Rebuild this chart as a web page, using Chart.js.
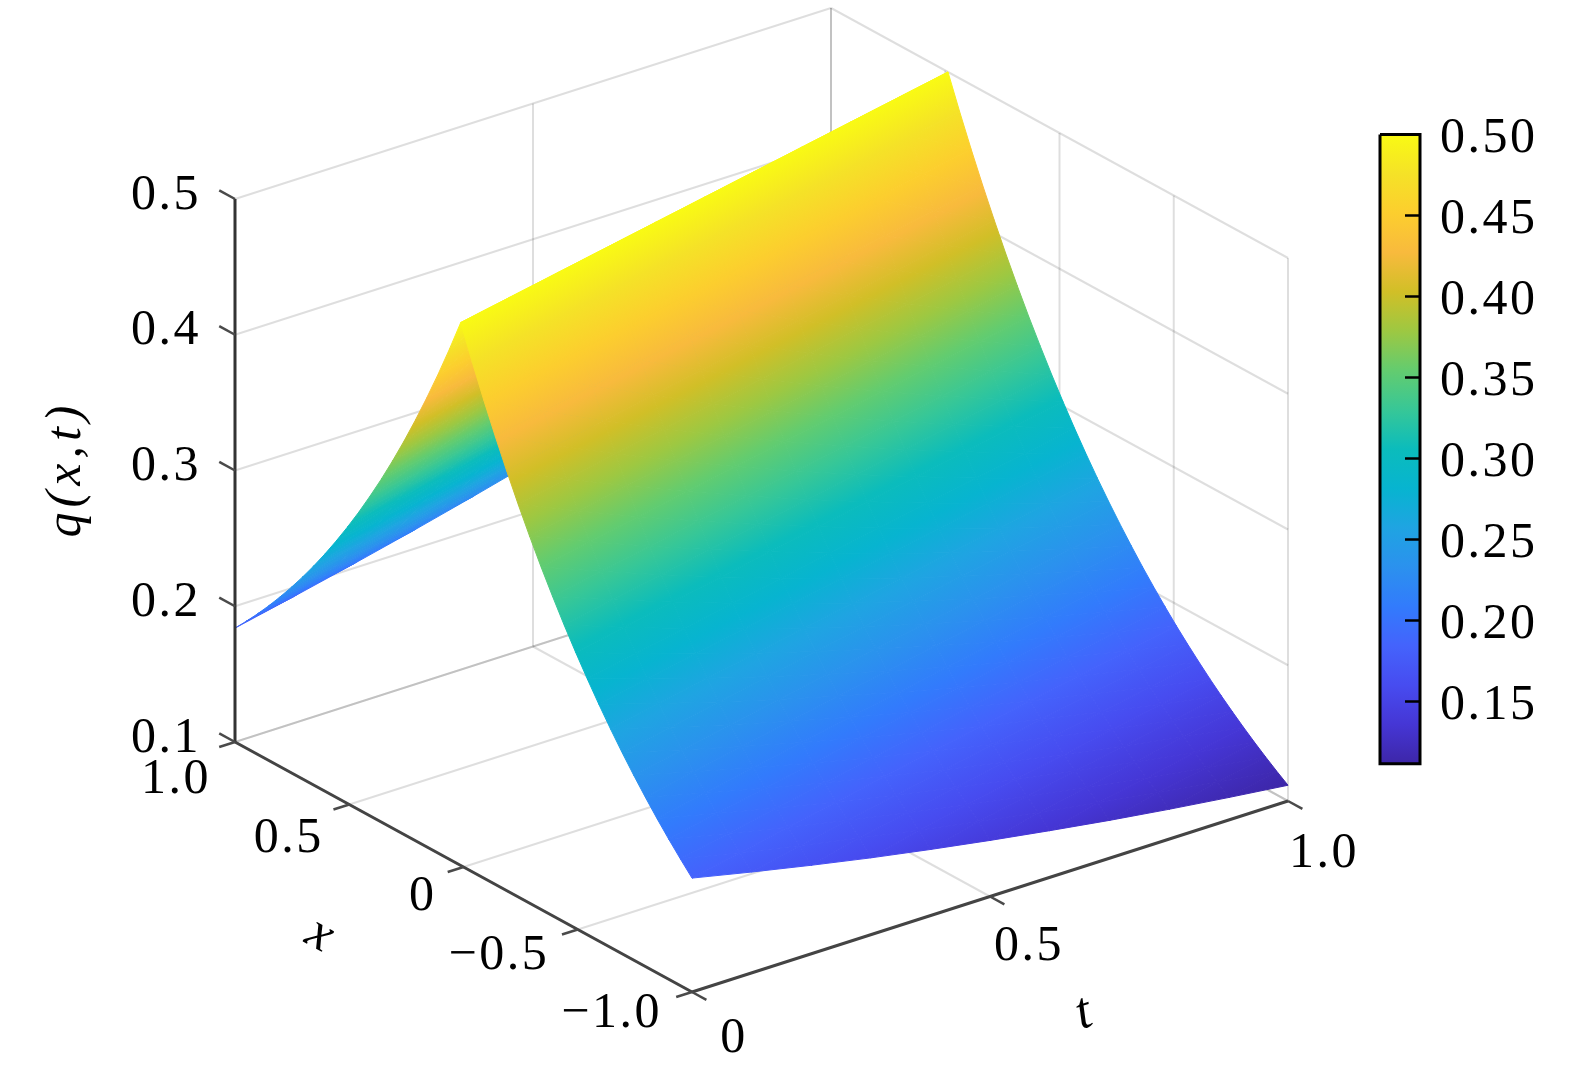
<!DOCTYPE html>
<html><head><meta charset="utf-8">
<style>html,body{margin:0;padding:0;background:#fff}canvas{display:block}</style>
<script src="https://cdn.jsdelivr.net/npm/chart.js@4"></script>
</head><body><canvas id="c" width="1575" height="1073"></canvas>
<script>
const xValues=[-1,-.95,-.9,-.85,-.8,-.75,-.7,-.65,-.6,-.55,-.5,-.45,-.4,-.35,-.3,-.25,-.2,-.15,-.1,-.05,0,.05,.1,.15,.2,.25,.3,.35,.4,.45,.5,.55,.6,.65,.7,.75,.8,.85,.9,.95,1];
const tValues=[0,.1,.2,.3,.4,.5,.6,.7,.8,.9,1];
// ridge offset, one per t row
const ridgeOffset=[.012,.0096,.0072,.0048,.0024,0,-.0024,-.0048,-.0072,-.0096,-.012];
const qT00=[.1839,.1934,.2033,.2137,.2247,.2362,.2483,.2610,.2744,.2885,.3033,.3188,.3352,.3523,.3704,.3894,.4094,.4304,.4524,.4756,.5,.4756,.4524,.4304,.4094,.3894,.3704,.3523,.3352,.3188,.3033,.2885,.2744,.2610,.2483,.2362,.2247,.2137,.2033,.1934,.1839];
const qT01=[.1743,.1839,.1934,.2033,.2137,.2247,.2362,.2483,.2610,.2744,.2885,.3033,.3188,.3352,.3523,.3704,.3894,.4094,.4304,.4524,.4756,.5,.4756,.4524,.4304,.4094,.3894,.3704,.3523,.3352,.3188,.3033,.2885,.2744,.2610,.2483,.2362,.2247,.2137,.2033,.1934];
const qT02=[.1652,.1750,.1839,.1934,.2033,.2137,.2247,.2362,.2483,.2610,.2744,.2885,.3033,.3188,.3352,.3523,.3704,.3894,.4094,.4304,.4524,.4756,.5,.4756,.4524,.4304,.4094,.3894,.3704,.3523,.3352,.3188,.3033,.2885,.2744,.2610,.2483,.2362,.2247,.2137,.2033];
const qT03=[.1566,.1665,.1750,.1839,.1934,.2033,.2137,.2247,.2362,.2483,.2610,.2744,.2885,.3033,.3188,.3352,.3523,.3704,.3894,.4094,.4304,.4524,.4756,.5,.4756,.4524,.4304,.4094,.3894,.3704,.3523,.3352,.3188,.3033,.2885,.2744,.2610,.2483,.2362,.2247,.2137];
const qT04=[.1487,.1583,.1665,.1750,.1839,.1934,.2033,.2137,.2247,.2362,.2483,.2610,.2744,.2885,.3033,.3188,.3352,.3523,.3704,.3894,.4094,.4304,.4524,.4756,.5,.4756,.4524,.4304,.4094,.3894,.3704,.3523,.3352,.3188,.3033,.2885,.2744,.2610,.2483,.2362,.2247];
const qT05=[.1413,.1506,.1583,.1665,.1750,.1839,.1934,.2033,.2137,.2247,.2362,.2483,.2610,.2744,.2885,.3033,.3188,.3352,.3523,.3704,.3894,.4094,.4304,.4524,.4756,.5,.4756,.4524,.4304,.4094,.3894,.3704,.3523,.3352,.3188,.3033,.2885,.2744,.2610,.2483,.2362];
const qT06=[.1344,.1433,.1506,.1583,.1665,.1750,.1839,.1934,.2033,.2137,.2247,.2362,.2483,.2610,.2744,.2885,.3033,.3188,.3352,.3523,.3704,.3894,.4094,.4304,.4524,.4756,.5,.4756,.4524,.4304,.4094,.3894,.3704,.3523,.3352,.3188,.3033,.2885,.2744,.2610,.2483];
const qT07=[.1279,.1363,.1433,.1506,.1583,.1665,.1750,.1839,.1934,.2033,.2137,.2247,.2362,.2483,.2610,.2744,.2885,.3033,.3188,.3352,.3523,.3704,.3894,.4094,.4304,.4524,.4756,.5,.4756,.4524,.4304,.4094,.3894,.3704,.3523,.3352,.3188,.3033,.2885,.2744,.2610];
const qT08=[.1220,.1296,.1363,.1433,.1506,.1583,.1665,.1750,.1839,.1934,.2033,.2137,.2247,.2362,.2483,.2610,.2744,.2885,.3033,.3188,.3352,.3523,.3704,.3894,.4094,.4304,.4524,.4756,.5,.4756,.4524,.4304,.4094,.3894,.3704,.3523,.3352,.3188,.3033,.2885,.2744];
const qT09=[.1166,.1233,.1296,.1363,.1433,.1506,.1583,.1665,.1750,.1839,.1934,.2033,.2137,.2247,.2362,.2483,.2610,.2744,.2885,.3033,.3188,.3352,.3523,.3704,.3894,.4094,.4304,.4524,.4756,.5,.4756,.4524,.4304,.4094,.3894,.3704,.3523,.3352,.3188,.3033,.2885];
const qT10=[.1116,.1173,.1233,.1296,.1363,.1433,.1506,.1583,.1665,.1750,.1839,.1934,.2033,.2137,.2247,.2362,.2483,.2610,.2744,.2885,.3033,.3188,.3352,.3523,.3704,.3894,.4094,.4304,.4524,.4756,.5,.4756,.4524,.4304,.4094,.3894,.3704,.3523,.3352,.3188,.3033];
const qRows=[qT00,qT01,qT02,qT03,qT04,qT05,qT06,qT07,qT08,qT09,qT10];

const xTicks=[1,.5,0,-.5,-1], xTickLabels=['1.0','0.5','0','\u22120.5','\u22121.0'];
const tTicks=[0,.5,1], tTickLabels=['0','0.5','1.0'];
const zTicks=[.1,.2,.3,.4,.5], zTickLabels=['0.1','0.2','0.3','0.4','0.5'];
const cbTicks=[.5,.45,.4,.35,.3,.25,.2,.15], cbTickLabels=['0.50','0.45','0.40','0.35','0.30','0.25','0.20','0.15'];
const qMin=.1116, qMax=.5;
const cmapStops=[[.2422,.1504,.6603],[.2706,.2147,.8364],[.2813,.3006,.9414],[.2699,.3892,.9906],[.1963,.4847,.9892],[.1687,.5703,.9359],[.1248,.6459,.8883],[.0297,.7082,.8163],[.0433,.7411,.7394],[.2161,.7843,.5923],[.3909,.8029,.4354],[.6174,.7876,.2612],[.8203,.7498,.1535],[.9728,.7298,.2394],[.9892,.8082,.1816],[.9610,.8890,.1540],[.9769,.9839,.0805]];

// orthographic view of the box
const O={x:235,y:742}, EX={x:457,y:250}, ET={x:596,y:-191}, ZS=1357.5;
const proj=(x,t,z)=>({x:O.x+EX.x*(1-x)/2+ET.x*t, y:O.y+EX.y*(1-x)/2+ET.y*t-ZS*(z-.1)});
const cbY=v=>134.5+(.5-v)/.05*81, CB={l:1380,r:1420,bottom:cbY(qMin)};

function addStops(g){
  cmapStops.forEach((c,i)=>g.addColorStop(i/(cmapStops.length-1),`rgb(${c[0]*255|0},${c[1]*255|0},${c[2]*255|0})`));
  return g;
}
function triGradient(pts,vals){
  let cache=null;
  return c=>{
    if(cache) return cache;
    const sx=c.chart.scales.x, sy=c.chart.scales.y;
    const p=pts.map(q=>({x:sx.getPixelForValue(q.x),y:sy.getPixelForValue(q.y)}));
    if(!Number.isFinite(p[0].x+p[0].y)) return 'rgba(0,0,0,0)'; // scales not laid out yet
    const d1={x:p[1].x-p[0].x,y:p[1].y-p[0].y}, d2={x:p[2].x-p[0].x,y:p[2].y-p[0].y};
    const dv1=vals[1]-vals[0], dv2=vals[2]-vals[0], det=d1.x*d2.y-d1.y*d2.x;
    const gx=(dv1*d2.y-dv2*d1.y)/det, gy=(dv2*d1.x-dv1*d2.x)/det, n=gx*gx+gy*gy;
    const ax=p[0].x+gx*(qMin-vals[0])/n, ay=p[0].y+gy*(qMin-vals[0])/n;
    const bx=p[0].x+gx*(qMax-vals[0])/n, by=p[0].y+gy*(qMax-vals[0])/n;
    cache=addStops(c.chart.ctx.createLinearGradient(ax,ay,bx,by));
    return cache;
  };
}

const layers=[];
const line=(data,color,width)=>layers.push({data,borderColor:color,borderWidth:width,pointRadius:0,fill:false,tension:0,borderCapStyle:'butt'});
const GRID='rgba(0,0,0,.13)';
// back walls and floor grid
zTicks.forEach(z=>{line([proj(1,0,z),proj(1,1,z)],GRID,2);line([proj(1,1,z),proj(-1,1,z)],GRID,2);});
tTicks.forEach(t=>line([proj(1,t,.1),proj(1,t,.5)],GRID,2));
xTicks.forEach(x=>line([proj(x,1,.1),proj(x,1,.5)],GRID,2));
xTicks.forEach(x=>line([proj(x,0,.1),proj(x,1,.1)],GRID,2));
tTicks.forEach(t=>line([proj(1,t,.1),proj(-1,t,.1)],GRID,2));

// surface: two triangles per grid cell, far slope first
const back=[],front=[];
const node=(a,b)=>{
  const x=xValues[a],t=tValues[b],r=t*.5;
  return {x:x+ridgeOffset[b]*(1-x*x)/(1-r*r),t,q:qRows[b][a]};
};
for(let i=xValues.length-2;i>=0;i--)for(let j=tValues.length-2;j>=0;j--){
  const A=node(i,j),B=node(i+1,j),C=node(i,j+1),D=node(i+1,j+1);
  (B.q<A.q?back:front).push([A,B,D]);
  (D.q<C.q?back:front).push([A,C,D]);
}
[...back,...front].forEach(tri=>{
  const pts=tri.map(v=>proj(v.x,v.t,v.q));
  const grad=triGradient(pts,tri.map(v=>v.q));
  layers.push({data:[...pts,pts[0]],backgroundColor:grad,borderColor:grad,borderWidth:1,pointRadius:0,fill:'shape',tension:0,borderJoinStyle:'round'});
});

// axes and ticks
const AX='#444', TK='#4a4a4a';
line([proj(1,0,.1),proj(1,0,.5)],'#333',3);
line([proj(1,0,.1),proj(-1,0,.1)],AX,3);
line([proj(-1,0,.1),proj(-1,1,.1)],AX,3);
zTicks.forEach(z=>line([proj(1.069,0,z),proj(1,0,z)],TK,2.5));
xTicks.forEach(x=>line([proj(x,-.0265,.1),proj(x,0,.1)],TK,2.5));
tTicks.forEach(t=>line([proj(-1,t,.1),proj(-1.063,t,.1)],TK,2.5));

// colour bar
const cbRect=[{x:CB.l,y:cbY(qMax)},{x:CB.r,y:cbY(qMax)},{x:CB.r,y:CB.bottom},{x:CB.l,y:CB.bottom},{x:CB.l,y:cbY(qMax)}];
layers.push({data:cbRect,fill:'shape',tension:0,pointRadius:0,borderColor:'#000',borderWidth:3,borderJoinStyle:'miter',
  backgroundColor:c=>{const s=c.chart.scales.y,a=s.getPixelForValue(CB.bottom),b=s.getPixelForValue(cbY(qMax));
    if(!Number.isFinite(a+b))return 'rgba(0,0,0,0)';
    return addStops(c.chart.ctx.createLinearGradient(0,a,0,b));}});
cbTicks.slice(1).forEach(v=>line([{x:CB.r-15,y:cbY(v)},{x:CB.r,y:cbY(v)}],'#000',2.5));

const NUM='50px "Liberation Serif"', ITAL='italic 52px "Liberation Serif"';
const textPlugin={id:'axisText',afterDraw(ch){
  const g=ch.ctx,sx=ch.scales.x,sy=ch.scales.y;
  const put=(s,px,py,align,font,rot,sp)=>{
    g.save();g.translate(sx.getPixelForValue(px),sy.getPixelForValue(py));if(rot)g.rotate(rot);
    g.font=font;g.letterSpacing=(sp??2.5)+'px';g.textAlign=align;g.textBaseline='alphabetic';g.fillStyle='#000';
    g.fillText(s,0,0);g.restore();
  };
  const H=16;
  zTicks.forEach((z,i)=>{const p=proj(1,0,z);put(zTickLabels[i],p.x-34,p.y-6.4+H,'right',NUM);});
  xTicks.forEach((x,i)=>{const p=proj(x,0,.1);put(xTickLabels[i],p.x-30+3*(x+1),p.y+19+8*(x+1)+H,'right',NUM);});
  tTicks.forEach((t,i)=>{const p=proj(-1,t,.1);put(tTickLabels[i],p.x+42-6*t,p.y+44+6*t+H,'center',NUM);});
  cbTicks.forEach((v,i)=>put(cbTickLabels[i],1440,cbY(v)+1+H,'left',NUM));
  put('x',313,947,'center',ITAL,Math.atan2(EX.y,EX.x),0);
  put('t',1088,1027,'center',ITAL,Math.atan2(ET.y,ET.x),0);
  put('q(x,t)',80,469,'center','italic 50px "Liberation Serif"',-Math.PI/2,5);
}};

new Chart(document.getElementById('c'),{
  type:'line',
  data:{datasets:layers.slice().reverse()},
  options:{responsive:false,animation:false,events:[],
    layout:{padding:0},
    plugins:{legend:{display:false},tooltip:{enabled:false},title:{display:false}},
    scales:{
      x:{type:'linear',min:0,max:1575,display:false},
      y:{type:'linear',min:0,max:1073,reverse:true,display:false}
    }
  },
  plugins:[textPlugin]
});
</script></body></html>
